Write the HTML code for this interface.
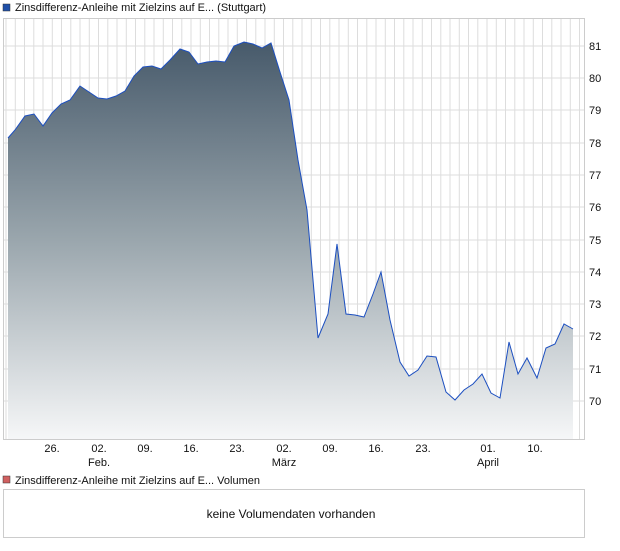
<!DOCTYPE html>
<html><head><meta charset="utf-8"><style>
body{margin:0;background:#fff;font-family:"Liberation Sans",sans-serif;}
</style></head><body>
<svg width="620" height="546" xmlns="http://www.w3.org/2000/svg" font-family="Liberation Sans, sans-serif">
<defs>
<linearGradient id="g" x1="0" y1="40" x2="0" y2="440" gradientUnits="userSpaceOnUse">
<stop offset="0" stop-color="#46596a"/>
<stop offset="0.5" stop-color="#9aa6ad"/>
<stop offset="1" stop-color="#f6f7f8"/>
</linearGradient>
</defs>
<rect x="3" y="4" width="7" height="7" fill="#1f4fa8" stroke="#333" stroke-width="0.5"/>
<text x="15" y="11" font-size="11" fill="#111">Zinsdifferenz-Anleihe mit Zielzins auf E... (Stuttgart)</text>
<rect x="3.5" y="18.5" width="581" height="421" fill="#fff" stroke="#ccc"/>
<g stroke="#ddd" stroke-width="1">
<line x1="4" x2="584" y1="46" y2="46"/><line x1="4" x2="584" y1="78" y2="78"/><line x1="4" x2="584" y1="110" y2="110"/><line x1="4" x2="584" y1="143" y2="143"/><line x1="4" x2="584" y1="175" y2="175"/><line x1="4" x2="584" y1="207" y2="207"/><line x1="4" x2="584" y1="240" y2="240"/><line x1="4" x2="584" y1="272" y2="272"/><line x1="4" x2="584" y1="304" y2="304"/><line x1="4" x2="584" y1="336" y2="336"/><line x1="4" x2="584" y1="369" y2="369"/><line x1="4" x2="584" y1="401" y2="401"/>
</g>
<g id="vg"></g>
<path d="M8,138 L15,130 L25,116 L34,114 L43,126 L52,113 L61,104 L70,100 L80,86 L89,92 L98,98 L107,99 L116,96 L125,91 L134,76 L143,67 L152,66 L161,69 L170,60 L180,49 L189,52 L198,64 L207,62 L216,61 L225,62 L234,46 L244,42 L253,44 L262,48 L271,43 L280,72 L289,100 L298,160 L307,210 L318,338 L328,314 L337,244 L346,314 L355,315 L364,317 L373,294 L381,272 L390,320 L400,362 L409,376 L418,370 L427,356 L436,357 L446,392 L455,400 L464,390 L473,384 L482,374 L491,393 L500,398 L509,342 L518,374 L527,358 L537,378 L546,348 L555,344 L564,324 L573,329 L573,439 L8,439 Z" fill="url(#g)"/>
<path d="M8,138 L15,130 L25,116 L34,114 L43,126 L52,113 L61,104 L70,100 L80,86 L89,92 L98,98 L107,99 L116,96 L125,91 L134,76 L143,67 L152,66 L161,69 L170,60 L180,49 L189,52 L198,64 L207,62 L216,61 L225,62 L234,46 L244,42 L253,44 L262,48 L271,43 L280,72 L289,100 L298,160 L307,210 L318,338 L328,314 L337,244 L346,314 L355,315 L364,317 L373,294 L381,272 L390,320 L400,362 L409,376 L418,370 L427,356 L436,357 L446,392 L455,400 L464,390 L473,384 L482,374 L491,393 L500,398 L509,342 L518,374 L527,358 L537,378 L546,348 L555,344 L564,324 L573,329" fill="none" stroke="#1c4fc0" stroke-width="1"/>
<g font-size="11" fill="#111">
<text x="589" y="50">81</text><text x="589" y="82">80</text><text x="589" y="114">79</text><text x="589" y="147">78</text><text x="589" y="179">77</text><text x="589" y="211">76</text><text x="589" y="244">75</text><text x="589" y="276">74</text><text x="589" y="308">73</text><text x="589" y="340">72</text><text x="589" y="373">71</text><text x="589" y="405">70</text>
</g>
<g font-size="11" fill="#111" text-anchor="middle">
<text x="52" y="452">26.</text><text x="99" y="452">02.</text><text x="145" y="452">09.</text><text x="191" y="452">16.</text><text x="237" y="452">23.</text><text x="284" y="452">02.</text><text x="330" y="452">09.</text><text x="376" y="452">16.</text><text x="423" y="452">23.</text><text x="488" y="452">01.</text><text x="535" y="452">10.</text>
<text x="99" y="466">Feb.</text><text x="284" y="466">März</text><text x="488" y="466">April</text>
</g>
<rect x="3" y="476" width="7" height="7" fill="#d06060" stroke="#333" stroke-width="0.5"/>
<text x="15" y="484" font-size="11" fill="#111">Zinsdifferenz-Anleihe mit Zielzins auf E... Volumen</text>
<rect x="3.5" y="489.5" width="581" height="48" fill="#fff" stroke="#ccc"/>
<text x="291" y="518" font-size="12" fill="#111" text-anchor="middle">keine Volumendaten vorhanden</text>
</svg>
<script>
var g=document.getElementById('vg'),s='';
for(var x=6;x<584;x+=9.25){s+='<line x1="'+x.toFixed(1)+'" x2="'+x.toFixed(1)+'" y1="19" y2="439" stroke="#ddd"/>';}
g.innerHTML=s;
</script>
</body></html>
